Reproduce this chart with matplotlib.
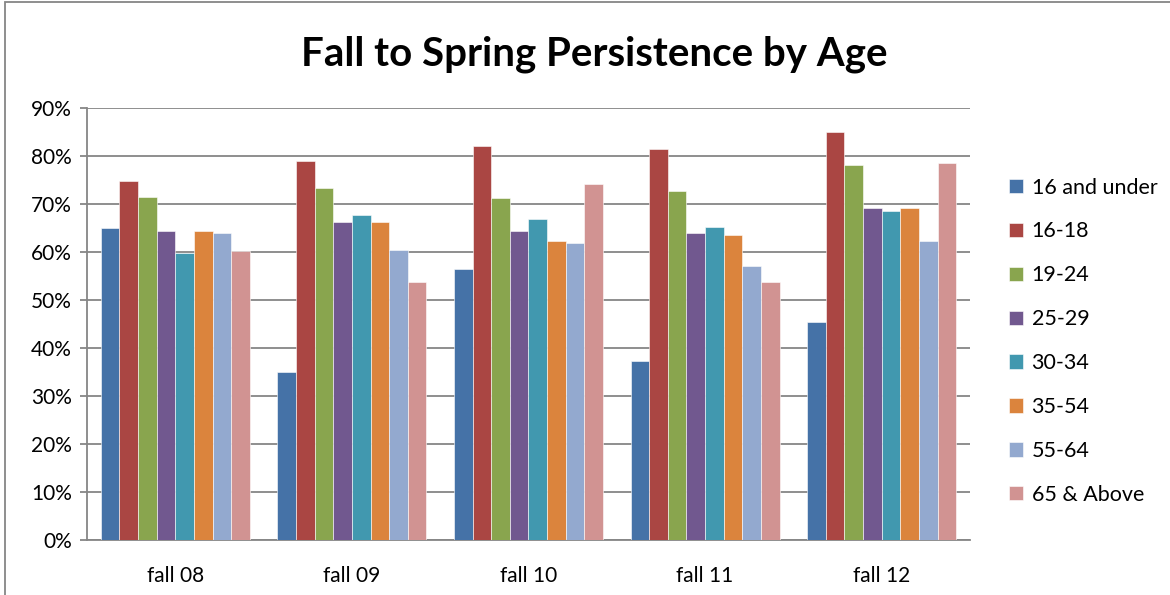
import numpy as np
import matplotlib
matplotlib.use('Agg')
import matplotlib.pyplot as plt
from matplotlib.patches import Rectangle
from matplotlib.ticker import FuncFormatter

plt.rcParams['font.family'] = ['Lato', 'DejaVu Sans']

terms = ['fall 08', 'fall 09', 'fall 10', 'fall 11', 'fall 12']
age_groups = ['16 and under', '16-18', '19-24', '25-29', '30-34', '35-54', '55-64', '65 & Above']

# persistence rate (%) per age group, one value per term
under_16 = [64.9, 34.9, 56.5, 37.3, 45.5]
age_16_18 = [74.8, 78.9, 82.1, 81.5, 84.9]
age_19_24 = [71.5, 73.3, 71.2, 72.7, 78.1]
age_25_29 = [64.3, 66.2, 64.3, 64.0, 69.2]
age_30_34 = [59.8, 67.8, 66.9, 65.3, 68.5]
age_35_54 = [64.3, 66.2, 62.3, 63.6, 69.2]
age_55_64 = [63.9, 60.4, 61.8, 57.0, 62.2]
age_65_up = [60.3, 53.8, 74.2, 53.7, 78.5]

series = [under_16, age_16_18, age_19_24, age_25_29, age_30_34, age_35_54, age_55_64, age_65_up]
colors = ['#4572A7', '#AA4643', '#89A54E', '#71588F', '#4198AF', '#DB843D', '#93A9CF', '#D19392']

fig = plt.figure(figsize=(11.7, 5.95), dpi=100)
ax = fig.add_axes([0.0744, 0.0924, 0.7546, 0.7261])

x = np.arange(len(terms))
bw = 0.8445 / len(series)
for i, (vals, c, lbl) in enumerate(zip(series, colors, age_groups)):
    ax.bar(x - 0.8445 / 2 + bw * (i + 0.5), vals, width=bw, color=c, label=lbl,
           edgecolor='white', linewidth=0.4, zorder=3)

ax.set_xlim(-0.5, len(terms) - 0.5)
ax.set_ylim(0, 90)
ax.set_yticks(np.arange(0, 91, 10))
ax.yaxis.set_major_formatter(FuncFormatter(lambda v, p: '%d%%' % v))
ax.set_xticks(x)
ax.set_xticklabels(terms)
ax.grid(axis='y', color='#868686', linewidth=1.3, zorder=0)
for s in ['top', 'right']:
    ax.spines[s].set_visible(False)
for s in ['left', 'bottom']:
    ax.spines[s].set_color('#868686')
    ax.spines[s].set_linewidth(1.3)
ax.tick_params(axis='y', length=5, color='#868686', width=1.3, labelsize=15, pad=6)
ax.tick_params(axis='x', length=0, labelsize=15, pad=19)

fig.text(0.508, 0.908, 'Fall to Spring Persistence by Age', ha='center', va='center',
         fontsize=29, fontweight='bold')

fig.legend(loc='upper left', bbox_to_anchor=(0.855, 0.716), frameon=False, fontsize=15.5,
           handlelength=0.65, handleheight=0.65, handletextpad=0.4, labelspacing=1.11,
           borderaxespad=0)

fig.patches.append(Rectangle((0.0045, -0.01), 1.1, 1.0065, transform=fig.transFigure,
                             fill=False, edgecolor='#868686', linewidth=1.3))

fig.savefig('out.png', dpi=100)
